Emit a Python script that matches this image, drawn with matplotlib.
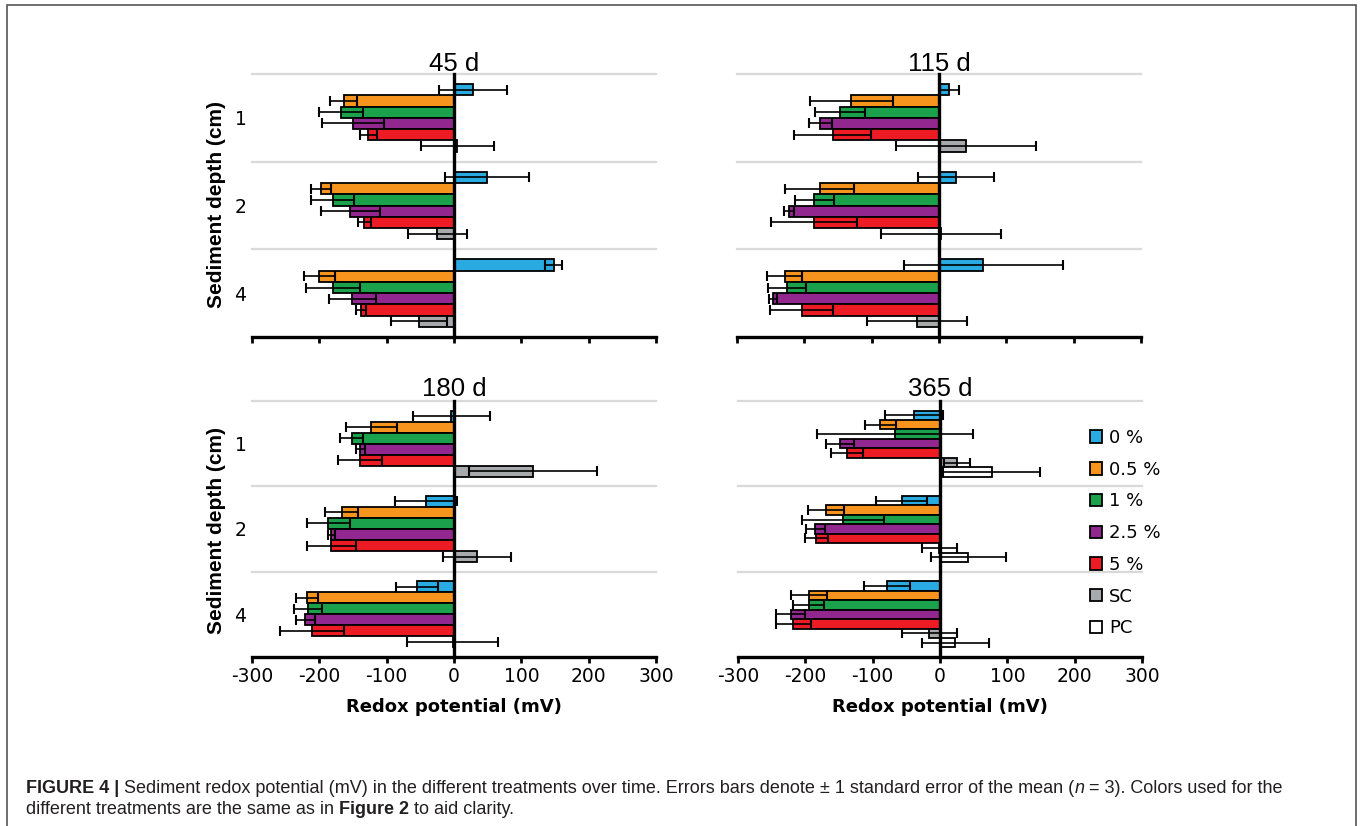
import matplotlib
matplotlib.use('Agg')
import matplotlib.pyplot as plt
from matplotlib.patches import Patch, Rectangle
import numpy as np

plt.rcParams['font.family'] = ['Liberation Sans', 'DejaVu Sans']

# ---------------- data ----------------
depths = ['1', '2', '4']
treatments = ['0 %', '0.5 %', '1 %', '2.5 %', '5 %', 'SC', 'PC']
panel_titles = ['45 d', '115 d', '180 d', '365 d']
x_ticks = [-300, -200, -100, 0, 100, 200, 300]

# mean redox potential (mV) per treatment, for depths 1, 2, 4 cm
mean_45 = [[28, 49, 148], [-164, -198, -200], [-168, -180, -180],
           [-150, -154, -151], [-127, -133, -138], [5, -25, -52]]
se_45 = [[50, 62, 13], [20, 15, 23], [33, 32, 40],
         [46, 44, 35], [13, 10, 7], [54, 44, 41]]

mean_115 = [[15, 25, 66], [-130, -177, -229], [-147, -185, -226],
            [-176, -223, -247], [-158, -186, -204], [40, 3, -33]]
se_115 = [[14, 56, 118], [62, 51, 26], [37, 29, 28],
          [17, 7, 6], [57, 64, 47], [104, 89, 74]]

mean_180 = [[-4, -41, -55], [-123, -167, -218], [-152, -187, -217],
            [-139, -182, -221], [-140, -182, -211], [118, 34, -2]]
se_180 = [[57, 46, 31], [38, 25, 16], [17, 32, 21],
          [7, 5, 14], [33, 37, 47], [95, 50, 68]]

mean_365 = [[-38, -57, -79], [-89, -169, -195], [-67, -144, -195],
            [-148, -185, -222], [-138, -184, -218], [25, -1, -16], [77, 42, 23]]
se_365 = [[43, 38, 34], [23, 27, 27], [116, 61, 23],
          [21, 14, 22], [24, 17, 26], [19, 26, 41], [72, 56, 50]]

colors = ['#29ABE2', '#F7941D', '#1BA14B', '#92278F', '#ED1C24', '#A7A9AC', '#FFFFFF']

# ---------------- figure ----------------
W, H = 1360, 826
fig = plt.figure(figsize=(W / 100, H / 100), dpi=100)

WIDE = ['DejaVu Sans']


def fx(px):
    return px / W


def fy(py):
    return 1 - py / H


panel_boxes = [  # left, top, right, bottom in pixels
    (252, 74, 656, 337),
    (737, 74, 1141, 337),
    (252, 401, 656, 657),
    (738, 401, 1142, 657),
]
panel_means = [mean_45, mean_115, mean_180, mean_365]
panel_se = [se_45, se_115, se_180, se_365]

for k, (l, t, r, b) in enumerate(panel_boxes):
    ax = fig.add_axes([fx(l), fy(b), (r - l) / W, (b - t) / H])
    means = panel_means[k]
    ses = panel_se[k]
    n = len(means)
    total = 0.775
    h = total / n
    y0 = np.arange(len(depths))
    for i in range(n):
        ys = y0 - total / 2 + h * (i + 0.5)
        ax.barh(ys, means[i], height=h, color=colors[i], edgecolor='black',
                linewidth=1.3, zorder=2)
        ax.errorbar(means[i], ys, xerr=ses[i], fmt='none', ecolor='black',
                    elinewidth=1.2, capsize=3.6, capthick=1.5, zorder=3)
    ax.set_xlim(-300, 300)
    ax.set_ylim(len(depths) - 0.5, -0.5)
    for g in [-0.5, 0.5, 1.5]:
        ax.axhline(g, color='#D9D9D9', lw=1.6, zorder=0, clip_on=False)
    ax.axvline(0, color='black', lw=2.4, zorder=4, clip_on=False)
    for s in ['top', 'right', 'left']:
        ax.spines[s].set_visible(False)
    ax.spines['bottom'].set_linewidth(2.4)
    ax.set_xticks(x_ticks)
    ax.tick_params(axis='x', direction='out', length=4.5, width=2.0,
                   labelsize=13.5, pad=3.0, colors='black')
    if k >= 2:
        ax.set_xticklabels([str(v) for v in x_ticks], family=WIDE)
    else:
        ax.set_xticklabels([])
    ax.set_yticks(y0)
    if k % 2 == 0:
        ax.set_yticklabels(depths, family=WIDE)
    else:
        ax.set_yticklabels([])
    ax.tick_params(axis='y', length=0, labelsize=13.5, pad=4)
    ax.set_facecolor('none')

    # title
    cx = (l + r) / 2
    base = 71 if k < 2 else 395.5
    fig.text(fx(cx), fy(base), panel_titles[k], ha='center', va='baseline',
             fontsize=18.5, color='black')

# axis labels
for yc in [205, 530]:
    fig.text(fx(216), fy(yc), 'Sediment depth (cm)', rotation=90, ha='center',
             va='center', fontsize=15, fontweight='bold')
for xc in [454, 940]:
    fig.text(fx(xc), fy(707), 'Redox potential (mV)', ha='center', va='center',
             fontsize=13, fontweight='bold', family=WIDE)

# legend
handles = [Patch(facecolor=c, edgecolor='black', linewidth=1.3) for c in colors]
fig.legend(handles, treatments, loc='upper left',
           bbox_to_anchor=(fx(1090), fy(429)), frameon=False, borderpad=0,
           borderaxespad=0, handlelength=0.68, handleheight=0.68,
           handletextpad=0.38, labelspacing=0.76,
           prop={'family': WIDE, 'size': 13})

# frame
fig.add_artist(Rectangle((fx(7), -0.05), fx(1356) - fx(7), fy(5) + 0.05,
                         transform=fig.transFigure, fill=False,
                         edgecolor='#555555', linewidth=1.2, clip_on=False))

# caption (rich text)
cap_size = 13
cap_color = '#231F20'
space_pt = 0.278 * cap_size


def rich_line(x_px, base_px, parts):
    first, wt, st, sp = parts[0]
    t = fig.text(fx(x_px), fy(base_px), first, fontsize=cap_size, fontweight=wt,
                 fontstyle=st, color=cap_color, ha='left', va='baseline')
    for s, wt, st, sp in parts[1:]:
        t = plt.annotate(
            s, xy=(1, 0), xycoords=t, xytext=(space_pt if sp else 0.3, 0),
            textcoords='offset points', fontsize=cap_size, fontweight=wt,
            fontstyle=st, color=cap_color, ha='left', va='bottom',
            annotation_clip=False)


line1 = [("FIGURE 4 |", 'bold', 'normal', False),
         ("Sediment redox potential (mV) in the different treatments over time. "
          "Errors bars denote \u00b1 1 standard error of the mean (", 'normal', 'normal', True),
         ("n", 'normal', 'italic', False),
         ("= 3). Colors used for the", 'normal', 'normal', True)]
line2 = [("different treatments are the same as in", 'normal', 'normal', False),
         ("Figure 2", 'bold', 'normal', True),
         ("to aid clarity.", 'normal', 'normal', True)]
rich_line(25.5, 793, line1)
rich_line(25.5, 814, line2)

fig.savefig('out.png', dpi=100)
